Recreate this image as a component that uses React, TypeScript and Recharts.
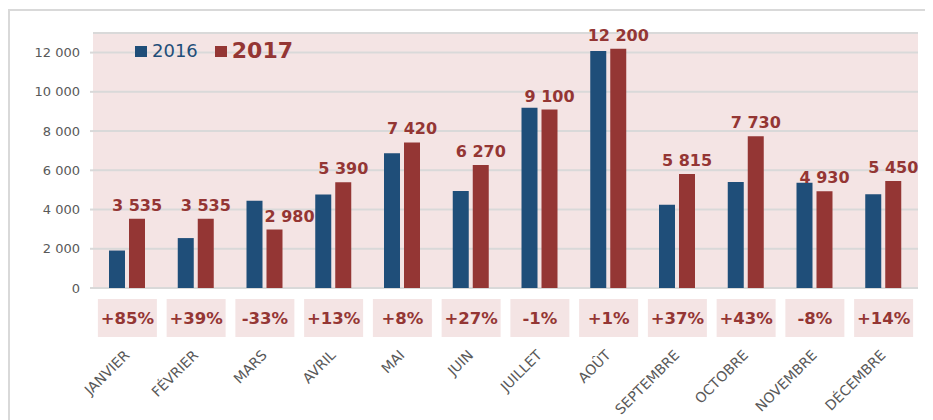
import { BarChart, Bar, XAxis, YAxis, CartesianGrid, LabelList } from 'recharts';

const MONTHS = [
  'JANVIER', 'FÉVRIER', 'MARS', 'AVRIL', 'MAI', 'JUIN',
  'JUILLET', 'AOÛT', 'SEPTEMBRE', 'OCTOBRE', 'NOVEMBRE', 'DÉCEMBRE',
];
const SALES_2016 = [1910, 2545, 4450, 4770, 6870, 4940, 9190, 12080, 4245, 5405, 5360, 4780];
const SALES_2017 = [3535, 3535, 2980, 5390, 7420, 6270, 9100, 12200, 5815, 7730, 4930, 5450];
const CHANGES = ['+85%', '+39%', '-33%', '+13%', '+8%', '+27%', '-1%', '+1%', '+37%', '+43%', '-8%', '+14%'];
const Y_TICKS = [0, 2000, 4000, 6000, 8000, 10000, 12000];

const BLUE = '#1F4E79';
const RED = '#943634';
const PINK = '#F4E4E4';
const GRID = '#D9D9D9';
const FONT = '"DejaVu Sans", Verdana, sans-serif';

const data = MONTHS.map((month, i) => ({
  month,
  y2016: SALES_2016[i],
  y2017: SALES_2017[i],
  change: CHANGES[i],
}));

// "12000" -> "12 000"
const fmt = (v: number) => String(v).replace(/\B(?=(\d{3})+(?!\d))/g, ' ');

function MonthTick({ x, y, payload, index }: any) {
  return (
    <g>
      <rect x={x - 29.5} y={y + 11} width={59} height={38} fill={PINK} />
      <text
        x={x}
        y={y + 36}
        textAnchor="middle"
        fill={RED}
        fontFamily={FONT}
        fontWeight="bold"
        fontSize={16.5}
      >
        {CHANGES[index]}
      </text>
      <text
        x={x + 3}
        y={y + 68}
        textAnchor="end"
        fill="#595959"
        fontFamily={FONT}
        fontSize={14}
        transform={`rotate(-45, ${x + 3}, ${y + 68})`}
      >
        {payload.value}
      </text>
    </g>
  );
}

// value label above the 2017 bars, kept on one line.
// when the 2016 bar would run into the label, nudge it right (like Excel does)
function ValueLabel({ x, y, width, value, index }: any) {
  const clash = SALES_2016[index] > SALES_2017[index] + 1000;
  return (
    <text
      x={x + width / 2 + (clash ? 15 : 0)}
      y={y - 8}
      textAnchor="middle"
      fill={RED}
      fontFamily={FONT}
      fontWeight="bold"
      fontSize={16}
    >
      {fmt(Number(value))}
    </text>
  );
}

export default function App() {
  return (
    <div style={{ position: 'relative', width: 925, height: 412, overflow: 'hidden', background: '#fff' }}>
      {/* outer chart frame, only top/left edges are visible */}
      <div
        style={{
          position: 'absolute',
          left: 0,
          top: 1,
          width: 960,
          height: 460,
          borderTop: `2px solid ${GRID}`,
          borderLeft: `2px solid ${GRID}`,
        }}
      />
      <div style={{ position: 'absolute', left: 0, top: 0 }}>
        <BarChart
          width={925}
          height={412}
          data={data}
          margin={{ top: 25, right: 15, left: 0, bottom: 0 }}
          barSize={16}
          barGap={4}
        >
          <CartesianGrid vertical={false} fill={PINK} stroke={GRID} strokeWidth={2} />
          <XAxis
            dataKey="month"
            interval={0}
            height={132}
            axisLine={false}
            tickLine={false}
            tickSize={0}
            tickMargin={0}
            tick={<MonthTick />}
          />
          <YAxis
            width={85}
            domain={[0, 13000]}
            ticks={Y_TICKS}
            tickFormatter={fmt}
            axisLine={false}
            tickLine={{ stroke: GRID, strokeWidth: 2 }}
            tickSize={3}
            tickMargin={10}
            tick={{ fill: '#595959', fontSize: 13, fontFamily: FONT }}
          />
          <Bar dataKey="y2016" name="2016" fill={BLUE} isAnimationActive={false} />
          <Bar dataKey="y2017" name="2017" fill={RED} isAnimationActive={false}>
            <LabelList dataKey="y2017" content={<ValueLabel />} />
          </Bar>
        </BarChart>
      </div>
      {/* legend sits inside the plot area, top-left */}
      <div
        style={{
          position: 'absolute',
          left: 127,
          top: 32,
          display: 'flex',
          alignItems: 'center',
          fontFamily: FONT,
          lineHeight: 1,
        }}
      >
        <span style={{ width: 12, height: 11, background: BLUE, display: 'inline-block', marginRight: 5 }} />
        <span style={{ color: BLUE, fontSize: 18, marginRight: 17 }}>2016</span>
        <span style={{ width: 12, height: 11, background: RED, display: 'inline-block', marginRight: 5 }} />
        <span style={{ color: RED, fontSize: 22, fontWeight: 'bold' }}>2017</span>
      </div>
    </div>
  );
}
